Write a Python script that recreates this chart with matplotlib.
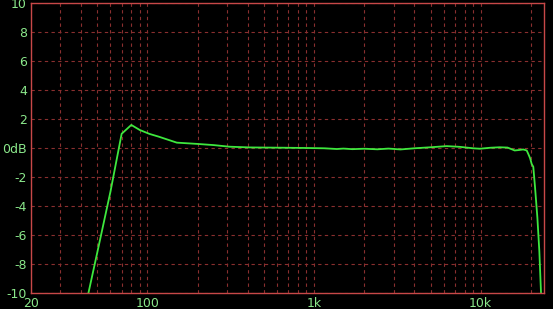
import numpy as np
import matplotlib
matplotlib.use("Agg")
import matplotlib.pyplot as plt
from matplotlib.ticker import FixedLocator, NullFormatter

# frequency response (Hz, dB)
freq = [40, 50, 60, 70, 80, 90, 103, 117, 150, 200, 250, 310, 410, 640, 900,
        1150, 1370, 1500, 1700, 2000, 2400, 2800, 3300, 4000, 5000, 6250, 7500,
        9000, 9900, 11500, 13000, 14500, 16000, 17000, 18000, 18900, 19300,
        19800, 20240, 20700, 21200, 21900, 22500, 23030, 23500]
level = [-12.3, -7.2, -3.0, 0.98, 1.59, 1.24, 0.97, 0.78, 0.37, 0.28, 0.2, 0.09,
         0.04, 0.02, 0.0, -0.02, -0.07, -0.04, -0.08, -0.05, -0.09, -0.04,
         -0.1, -0.02, 0.05, 0.13, 0.08, -0.02, -0.05, 0.02, 0.05, 0.03, -0.17,
         -0.14, -0.1, -0.17, -0.4, -0.7, -1.1, -1.3, -2.7, -4.8, -7.1, -10.0,
         -12.0]

xticks = [20, 100, 1000, 10000]
xlabels = ["20", "100", "1k", "10k"]
yticks = [-10, -8, -6, -4, -2, 0, 2, 4, 6, 8, 10]
ylabels = ["-10", "-8", "-6", "-4", "-2", "0dB", "2", "4", "6", "8", "10"]

fig = plt.figure(figsize=(5.53, 3.09), dpi=100, facecolor="black")
ax = fig.add_axes([31/553, 16/309, 513/553, 290/309], facecolor="black")

ax.semilogx(freq, level, color="#3ee83e", lw=1.3)
ax.set_xlim(20, 24000)
ax.set_ylim(-10, 10)

minor = [m * d for d in (10, 100, 1000, 10000) for m in range(2, 10)
         if 20 < m * d < 24000 and m * d not in (100, 1000, 10000)]
ax.xaxis.set_major_locator(FixedLocator(xticks))
ax.xaxis.set_minor_locator(FixedLocator(minor))
ax.xaxis.set_minor_formatter(NullFormatter())
ax.set_xticklabels(xlabels)
ax.set_yticks(yticks)
ax.set_yticklabels(ylabels)

gridc = "#8a2f2f"
ax.grid(True, which="both", axis="x", color=gridc, ls=(0, (3, 3)), lw=0.8)
ax.grid(True, which="major", axis="y", color=gridc, ls=(0, (3, 3)), lw=0.8)

for s in ax.spines.values():
    s.set_color("#c84848")
    s.set_linewidth(1.0)

ax.tick_params(which="both", length=0, colors="#7ee07e", labelsize=9, pad=3)
for lab in ax.get_xticklabels() + ax.get_yticklabels():
    lab.set_color("#8be88b")

fig.savefig("out.png", dpi=100, facecolor="black")
